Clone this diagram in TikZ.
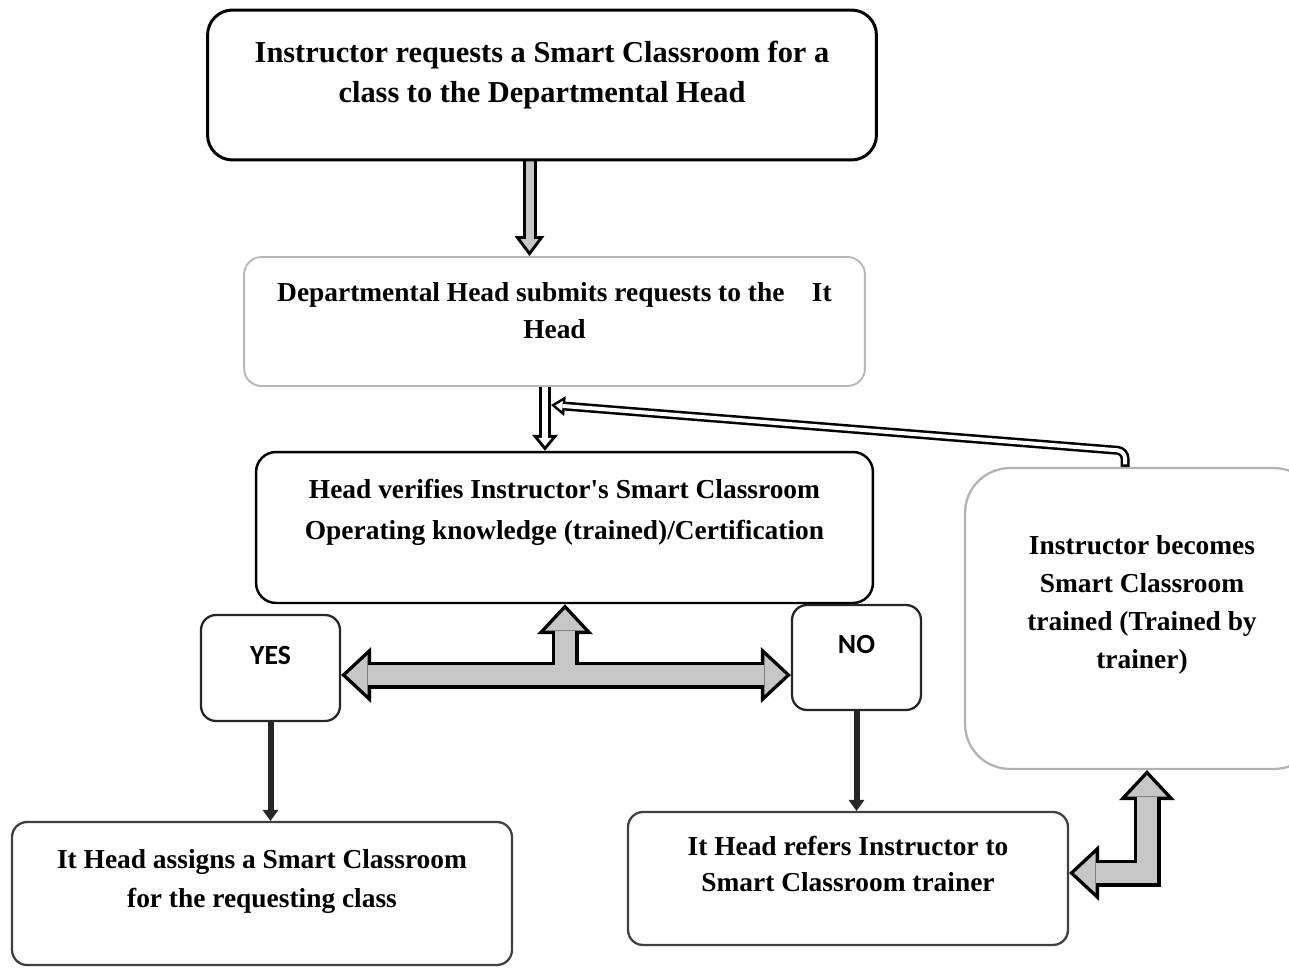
\documentclass[tikz,border=0pt]{standalone}
\usepackage{fontspec}
\setmainfont{Liberation Serif}
\newfontfamily\calib{Carlito}
\usetikzlibrary{arrows.meta,positioning,backgrounds}

\tikzset{
    BO/.tip = {Triangle[width=1.12cm,length=0.6cm,line width=0pt]},
    BI/.tip = {Triangle[width=0.8cm,length=0.43cm,line width=0pt]},
    MO/.tip = {Triangle[width=0.6cm,length=0.4cm,line width=0pt]},
    MI/.tip = {Triangle[width=0.36cm,length=0.24cm,line width=0pt]},
    WO/.tip = {Triangle[width=0.52cm,length=0.32cm,line width=0pt]},
    WI/.tip = {Triangle[width=0.27cm,length=0.164cm,line width=0pt]},
    FO/.tip = {Triangle[width=0.4cm,length=0.28cm,line width=0pt]},
    FI/.tip = {Triangle[width=0.2cm,length=0.144cm,line width=0pt]},
    DT/.tip = {Triangle[width=0.32cm,length=0.22cm,line width=0pt]}
}

\begin{document}
\begin{tikzpicture}[
        x=0.02cm, y=-0.02cm,
        box/.style = {rectangle, draw=gray!50!black, rounded corners=0.3cm, line width=1.3pt, align=center,
            font=\fontsize{15.6}{21.6}\selectfont\bfseries},
        yesno/.style = {box, draw=gray!30!black, font=\calib\bfseries\fontsize{15.8}{19}\selectfont, text depth=0.52cm},
        bigout/.style = {line width=0.54cm, black, line join=miter},
        bigin/.style = {line width=0.4cm, gray!45, line join=miter, shorten >=0.1cm, shorten <=0.1cm},
        midout/.style = {line width=0.28cm, black},
        midin/.style = {line width=0.16cm, gray!45, shorten >=0.1cm},
        whiteout/.style = {line width=0.24cm, black},
        whitein/.style = {line width=0.12cm, white, shorten >=0.096cm},
        fbout/.style = {line width=0.18cm, black, rounded corners=0.15cm},
        fbin/.style = {line width=0.08cm, white, rounded corners=0.15cm, shorten >=0.086cm, shorten <=0.05cm},
        down/.style = {line width=0.12cm, black!85, -DT}
    ]
    \useasboundingbox (0,0) rectangle (1289,974);
    \clip (0,0) rectangle (1289,974);

    %nodes
    \node [box, draw=black, line width=1.7pt, rounded corners=0.5cm, minimum width=13.38cm, minimum height=3cm,
        font=\fontsize{17.3}{22.8}\selectfont\bfseries, text depth=0.52cm] (req) at (542,85)
        {Instructor requests a Smart Classroom for a\\class to the Departmental Head};
    \node [box, draw=gray!55, line width=1.1pt, rounded corners=0.35cm, minimum width=12.42cm, minimum height=2.58cm,
        text depth=0.44cm] (sub) at (554.5,321.5)
        {Departmental Head submits requests to the\hspace{0.55cm}It\\Head};
    \node [box, draw=black, line width=1.4pt, rounded corners=0.4cm, minimum width=12.34cm, minimum height=3.02cm,
        font=\fontsize{15.6}{23.4}\selectfont\bfseries, text depth=0.72cm] (verify) at (564.5,527.5)
        {Head verifies Instructor\textquotesingle s Smart Classroom\\Operating knowledge (trained)/Certification};
    \node [yesno, minimum width=2.78cm, minimum height=2.12cm] (yes) at (270.5,668) {YES};
    \node [yesno, minimum width=2.58cm, minimum height=2.1cm] (no) at (856.5,657.5) {NO};
    \node [box, draw=gray!60, rounded corners=0.9cm, minimum width=7.08cm, minimum height=6.02cm,
        text depth=0.67cm] (trained) at (1142,618.5)
        {Instructor becomes\\Smart Classroom\\trained (Trained by\\trainer)};
    \node [box, minimum width=10cm, minimum height=2.86cm, font=\fontsize{15.6}{22.2}\selectfont\bfseries,
        text depth=0.6cm] (assign) at (262,893.5)
        {It Head assigns a Smart Classroom\\for the requesting class};
    \node [box, minimum width=8.8cm, minimum height=2.66cm, font=\fontsize{15.6}{20.5}\selectfont\bfseries,
        text depth=0.6cm] (refer) at (848,878.5)
        {It Head refers Instructor to\\Smart Classroom trainer};

    % points on the arrows
    \coordinate (a1) at ([xshift=-0.25cm]req.south);
    \coordinate (a2) at ([xshift=-0.19cm]sub.south);
    \coordinate (fb) at ([xshift=-0.34cm]trained.north);
    \coordinate (fbend) at (551,405);
    \coordinate (tjoin) at (565,675);
    \coordinate (lcorner) at (1147,873);

    % arrows
    \begin{scope}[on background layer]
    \draw[midout, -MO] (a1) -- (a1 |- sub.north);
    \draw[midin, -MI] (a1) -- (a1 |- sub.north);

    \draw[whiteout, -WO] (a2) -- (a2 |- verify.north);
    \draw[whitein, -WI] (a2) -- (a2 |- verify.north);

    \draw[fbout, -FO] (fb) -- ++(0,-16) -- (fbend);
    \draw[fbin, -FI] (fb) -- ++(0,-16) -- (fbend);

    \draw[bigout, BO-BO] (yes.east |- tjoin) -- (no.west |- tjoin);
    \draw[bigout, -BO] (tjoin) -- (tjoin |- verify.south);
    \draw[bigout, BO-BO] (lcorner |- trained.south) -- (lcorner) -- (refer.east |- lcorner);
    \draw[bigin, BI-BI] (yes.east |- tjoin) -- (no.west |- tjoin);
    \draw[bigin, -BI] (tjoin) -- (tjoin |- verify.south);
    \draw[bigin, BI-BI] (lcorner |- trained.south) -- (lcorner) -- (refer.east |- lcorner);

    \draw[down] (yes.south) -- (yes.south |- assign.north);
    \draw[down] (no.south) -- (no.south |- refer.north);
    \end{scope}

\end{tikzpicture}
\end{document}
